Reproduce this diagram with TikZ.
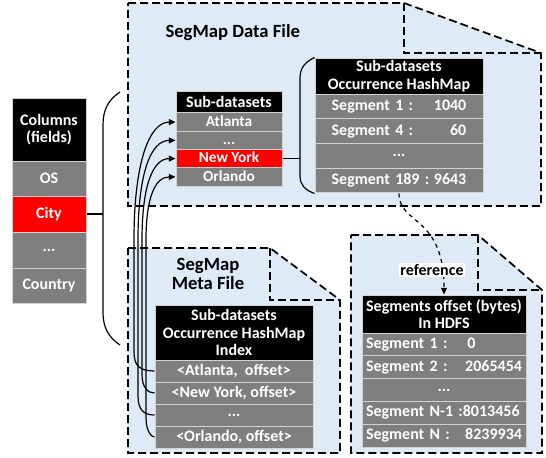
\documentclass[tikz,border=0pt]{standalone}
\usepackage{fontspec}
\setmainfont{Carlito}
\usetikzlibrary{arrows.meta}

\definecolor{filebg}{RGB}{222,235,247}
\definecolor{cellgray}{RGB}{127,127,127}
\definecolor{cellred}{RGB}{255,0,0}

\tikzset{every picture/.style={line width=0.75pt}}
\tikzset{
  hdr/.style={fill=black, draw=gray!35, text=white, inner sep=0pt, align=center,
    font=\fontsize{12}{13}\selectfont\bfseries},
  cell/.style={fill=cellgray, draw=gray!35, text=white, inner sep=0pt,
    font=\fontsize{12}{13}\selectfont\bfseries},
  redcell/.style={cell, fill=cellred},
  smallcell/.style={font=\fontsize{11.5}{12}\selectfont\bfseries, text height=8pt, text depth=1.5pt},
  filebox/.style={fill=filebg, draw=black, line width=1.3pt, dash pattern=on 6pt off 3pt},
  foldline/.style={draw=black, line width=1.3pt, dash pattern=on 6pt off 3pt},
  conn/.style={line width=0.9pt},
  arrowin/.style={-{Triangle[length=5pt,width=4.5pt]}}
}

\begin{document}
\begin{tikzpicture}[x=0.75pt,y=0.75pt,yscale=-1,xscale=1]
\useasboundingbox (0,0) rectangle (546,457);

%Shape: Folded File [SegMap Data File]
\draw [filebox] (128,3) -- (404,3) -- (541,53) -- (541,206) -- (128,206) -- cycle ;
\draw [foldline] (404,3) -- (404,53) -- (541,53) ;
%Shape: Folded File [SegMap Meta File]
\draw [filebox] (128,248) -- (270,248) -- (340,300) -- (340,453) -- (128,453) -- cycle ;
\draw [foldline] (270,248) -- (270,300) -- (340,300) ;
%Shape: Folded File [HDFS]
\draw [filebox] (351,235) -- (478,235) -- (542,290) -- (542,453) -- (351,453) -- cycle ;
\draw [foldline] (478,235) -- (478,290) -- (542,290) ;

% Text Node
\draw (165,33) node (dftitle) [anchor=west, inner sep=0pt, font=\fontsize{14}{16}\selectfont\bfseries] {SegMap Data File};
% Text Node
\draw (208,274) node (mftitle) [align=center, inner sep=0pt, font=\fontsize{14}{14}\selectfont\bfseries] {SegMap\\Meta File};

%Table: Columns
\draw (49,129.5) node (colhdr) [hdr, minimum width=55.5pt, minimum height=47.25pt] {Columns\\(fields)};
\draw (49,178.5) node (colos) [cell, minimum width=55.5pt, minimum height=26.25pt] {OS};
\draw (49,214) node (colcity) [redcell, minimum width=55.5pt, minimum height=27pt] {City};
\draw (49,250) node (coldots) [cell, minimum width=55.5pt, minimum height=27pt] {...};
\draw (49,285.5) node (colcountry) [cell, minimum width=55.5pt, minimum height=26.25pt] {Country};

%Table: Sub-datasets
\draw (229,102) node (subhdr) [hdr, minimum width=79.5pt, minimum height=16.5pt] {Sub-datasets};
\draw (229,122.1) node (subatl) [cell, smallcell, minimum width=79.5pt, minimum height=13.7pt] {Atlanta};
\draw (229,140.4) node (subdots) [cell, smallcell, minimum width=79.5pt, minimum height=13.7pt] {...};
\draw (229,158.6) node (subny) [redcell, smallcell, minimum width=79.5pt, minimum height=13.7pt] {New York};
\draw (229,176.9) node (suborl) [cell, smallcell, minimum width=79.5pt, minimum height=13.7pt] {Orlando};

%Table: Occurrence HashMap
\draw (399,76) node (hmhdr) [hdr, minimum width=126pt, minimum height=27pt] {Sub-datasets\\Occurrence HashMap};
\draw (399,106.4) node (hmseg1) [cell, minimum width=126pt, minimum height=18.56pt, text width=101pt] {Segment 1 :\hspace{\fill}1040};
\draw (399,131.1) node (hmseg4) [cell, minimum width=126pt, minimum height=18.56pt, text width=101pt] {Segment 4 :\hspace{\fill}60};
\draw (399,155.9) node (hmdots) [cell, minimum width=126pt, minimum height=18.56pt] {...};
\draw (399,180.6) node (hmseg189) [cell, minimum width=126pt, minimum height=18.56pt, text width=101pt] {Segment 189 :\hspace{\fill}9643};

%Table: Meta index
\draw (234,332.5) node (metahdr) [hdr, minimum width=118.5pt, minimum height=41.25pt] {Sub-datasets\\Occurrence HashMap\\Index};
\draw (234,371) node (metaatl) [cell, minimum width=118.5pt, minimum height=16.5pt] {<Atlanta,~ offset>};
\draw (234,393) node (metany) [cell, minimum width=118.5pt, minimum height=16.5pt] {<New York, offset>};
\draw (234,415) node (metadots) [cell, minimum width=118.5pt, minimum height=16.5pt] {...};
\draw (234,437) node (metaorl) [cell, minimum width=118.5pt, minimum height=16.5pt] {<Orlando, offset>};

%Table: Segments offset in HDFS
\draw (444,314) node (hdfshdr) [hdr, minimum width=123pt, minimum height=28.5pt] {Segments offset (bytes)\\In HDFS};
\draw (444,344.4) node (hdfsseg1) [cell, minimum width=123pt, minimum height=17.1pt, text width=117pt] {Segment 1 :\hspace{15pt}0};
\draw (444,367.2) node (hdfsseg2) [cell, minimum width=123pt, minimum height=17.1pt, text width=117pt] {Segment 2 :\hspace{\fill}2065454};
\draw (444,390) node (hdfsdots) [cell, minimum width=123pt, minimum height=17.1pt] {...};
\draw (444,412.8) node (hdfssegn1) [cell, minimum width=123pt, minimum height=17.1pt, text width=117pt] {Segment N-1 :8013456};
\draw (444,435.6) node (hdfssegn) [cell, minimum width=123pt, minimum height=17.1pt, text width=117pt] {Segment N :\hspace{\fill}8239934};

%Curve Lines: bracket of Columns
\coordinate (colbrace) at (103,214);
\draw [conn] (colcity.east) -- (colbrace) ;
\draw [conn] (120,92) .. controls (108,100) and (103,110) .. (103,125) -- (103,312) .. controls (103,327) and (108,337) .. (120,345) ;

%Curve Lines: bracket of HashMap
\coordinate (hmbrace) at (300,158.6);
\draw [conn] (subny.east) -- (hmbrace) ;
\draw [conn] (hmhdr.north west) .. controls (305,62) and (300,68) .. (300,78) -- (300,176) .. controls (300,185) and (305,190) .. (hmseg189.south west) ;

%Curve Lines: meta index to sub-datasets
\draw [conn, arrowin] (metaatl.west) .. controls (140,371) and (134,366) .. (134,352) -- (134,240) .. controls (134,160) and (150,122.1) .. (subatl.west) ;
\draw [conn, arrowin] (metany.west) .. controls (148,393) and (142,388) .. (142,374) -- (142,240) .. controls (142,185) and (153,158.6) .. (subny.west) ;
\draw [conn, arrowin] (metadots.west) .. controls (144,415) and (138,410) .. (138,396) -- (138,240) .. controls (138,172) and (151,140.4) .. (subdots.west) ;
\draw [conn, arrowin] (metaorl.west) .. controls (152,437) and (146,432) .. (146,418) -- (146,240) .. controls (146,198) and (155,176.9) .. (suborl.west) ;

%Curve Lines: reference
\draw [conn, dashed, arrowin] (hmseg189.south) .. controls (399,225) and (444,215) .. (hdfshdr.north) ;
% Text Node
\draw (432,270) node (reflbl) [fill=white, inner sep=1pt, font=\fontsize{12}{13}\selectfont\bfseries] {reference};

\end{tikzpicture}
\end{document}
